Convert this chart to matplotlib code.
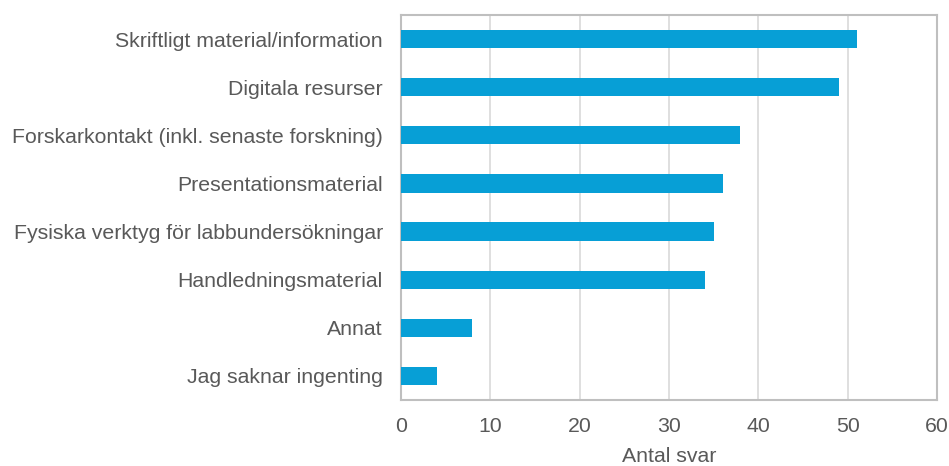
import matplotlib.pyplot as plt

# Data
kategorier = ['Skriftligt material/information', 'Digitala resurser',
              'Forskarkontakt (inkl. senaste forskning)', 'Presentationsmaterial',
              'Fysiska verktyg för labbundersökningar', 'Handledningsmaterial',
              'Annat', 'Jag saknar ingenting']
antal = [51, 49, 38, 36, 35, 34, 8, 4]

plt.rcParams['font.family'] = ['Liberation Sans', 'DejaVu Sans']
textfarg = '#595959'

fig = plt.figure(figsize=(9.49, 4.66), dpi=100)
ax = fig.add_axes([401 / 949, 66 / 466, 536 / 949, 385 / 466])

y = list(range(len(kategorier)))[::-1]
ax.barh(y, antal, height=0.38, color='#079fd6', zorder=3)

ax.set_xlim(0, 60)
ax.set_ylim(-0.5, len(kategorier) - 0.5)
ax.set_xticks(range(0, 61, 10))
ax.set_yticks(y)
ax.set_yticklabels(kategorier)
ax.tick_params(axis='both', length=0, labelsize=15.3, colors=textfarg)
ax.tick_params(axis='x', pad=12)
ax.tick_params(axis='y', pad=13)
ax.grid(axis='x', color='#d9d9d9', linewidth=1.2, zorder=0)

for s in ax.spines.values():
    s.set_color('#bfbfbf')
    s.set_linewidth(1.5)

ax.set_xlabel('Antal svar', fontsize=15.3, color=textfarg, labelpad=8)

plt.savefig('out.png')
